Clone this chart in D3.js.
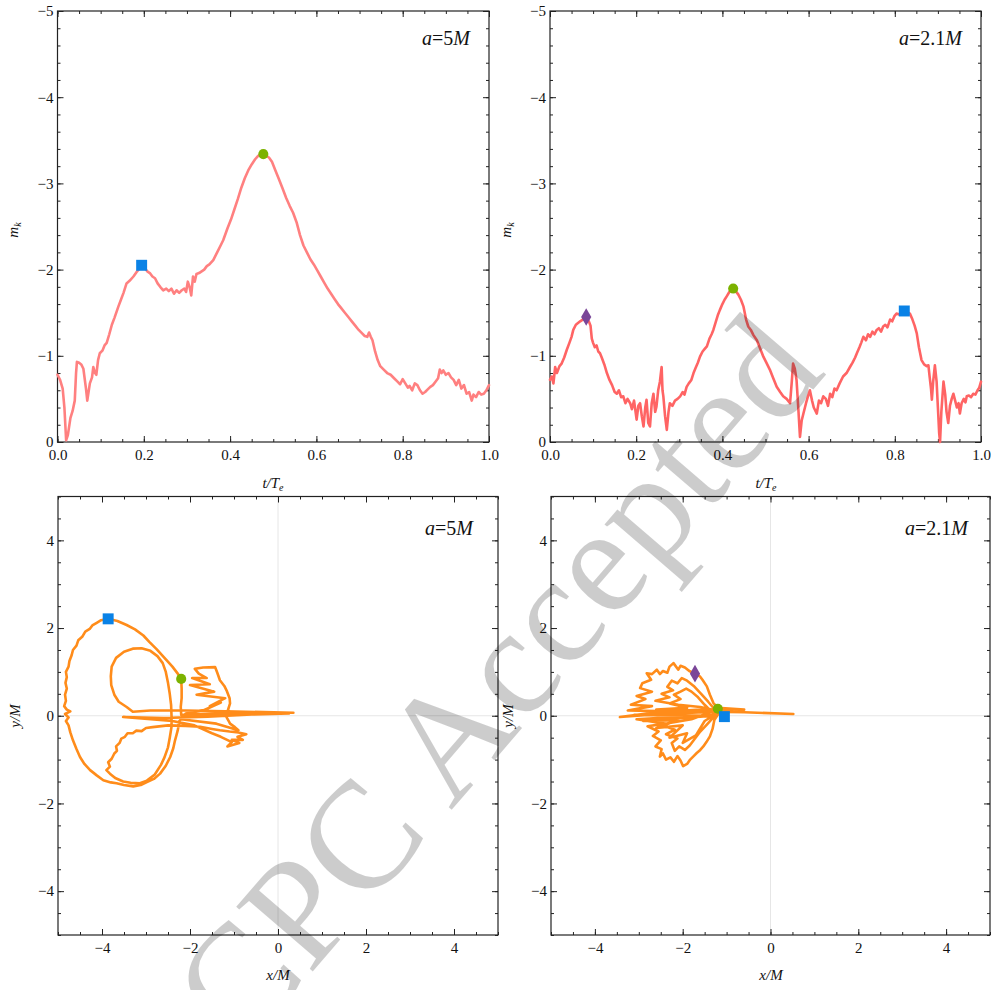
<!doctype html>
<html>
<head>
<meta charset="utf-8">
<title>m_k and orbits</title>
<script src="https://cdnjs.cloudflare.com/ajax/libs/d3/7.8.5/d3.min.js"></script>
<style>
  body { margin: 0; background: #fff; }
  svg text { font-family: "Liberation Serif", "Times New Roman", serif; }
  svg .tick text { font-size: 15px; }
</style>
</head>
<body>
<div id="chart"></div>
<script>
// ---- data ----
// top left, a = 5M : m_k against t/T_e
const tLeft = [0.000,0.006,0.012,0.016,0.020,0.024,0.030,0.035,0.040,0.043,0.045,0.050,0.055,0.060,0.066,0.069,0.075,0.080,0.083,0.087,0.090,0.094,0.098,0.104,0.109,0.114,0.120,0.126,0.132,0.141,0.147,0.153,0.160,0.167,0.176,0.183,0.188,0.195,0.202,0.208,0.214,0.220,0.226,0.232,0.238,0.245,0.252,0.258,0.264,0.270,0.276,0.282,0.288,0.294,0.298,0.302,0.306,0.310,0.314,0.318,0.322,0.328,0.334,0.340,0.346,0.352,0.361,0.370,0.378,0.384,0.394,0.402,0.410,0.418,0.426,0.434,0.442,0.450,0.458,0.465,0.472,0.477,0.484,0.490,0.497,0.505,0.513,0.521,0.530,0.538,0.546,0.554,0.562,0.570,0.578,0.586,0.594,0.601,0.610,0.618,0.626,0.634,0.642,0.650,0.658,0.666,0.674,0.682,0.690,0.698,0.706,0.712,0.718,0.722,0.726,0.730,0.736,0.742,0.748,0.756,0.764,0.772,0.780,0.788,0.794,0.800,0.806,0.812,0.816,0.822,0.828,0.834,0.840,0.846,0.852,0.858,0.864,0.870,0.876,0.882,0.886,0.890,0.894,0.900,0.906,0.912,0.918,0.924,0.930,0.936,0.942,0.948,0.954,0.960,0.964,0.970,0.976,0.982,0.988,0.994,1.000];
const mLeft = [-0.78,-0.72,-0.62,-0.40,-0.02,-0.08,-0.28,-0.36,-0.48,-0.80,-0.93,-0.92,-0.90,-0.85,-0.62,-0.48,-0.68,-0.75,-0.87,-0.80,-0.78,-0.95,-1.03,-1.06,-1.12,-1.15,-1.25,-1.36,-1.44,-1.57,-1.65,-1.73,-1.84,-1.87,-1.92,-1.97,-2.00,-2.05,-2.02,-1.98,-1.96,-1.92,-1.90,-1.84,-1.80,-1.76,-1.78,-1.75,-1.78,-1.72,-1.76,-1.73,-1.76,-1.78,-1.74,-1.86,-1.80,-1.70,-1.92,-1.86,-1.95,-1.96,-1.98,-2.00,-2.04,-2.06,-2.11,-2.20,-2.28,-2.34,-2.48,-2.58,-2.70,-2.82,-2.95,-3.06,-3.15,-3.22,-3.28,-3.32,-3.34,-3.34,-3.32,-3.30,-3.25,-3.15,-3.05,-2.95,-2.83,-2.74,-2.66,-2.55,-2.40,-2.28,-2.20,-2.12,-2.06,-2.00,-1.92,-1.85,-1.78,-1.72,-1.66,-1.60,-1.55,-1.50,-1.45,-1.40,-1.35,-1.30,-1.26,-1.23,-1.22,-1.27,-1.22,-1.18,-1.05,-0.95,-0.88,-0.84,-0.80,-0.78,-0.74,-0.70,-0.67,-0.73,-0.68,-0.63,-0.65,-0.60,-0.68,-0.66,-0.60,-0.56,-0.58,-0.61,-0.64,-0.66,-0.70,-0.74,-0.84,-0.80,-0.83,-0.78,-0.80,-0.75,-0.72,-0.66,-0.72,-0.62,-0.66,-0.56,-0.58,-0.48,-0.55,-0.52,-0.58,-0.55,-0.56,-0.60,-0.66];

// top right, a = 2.1M
const tRight = [0.000,0.004,0.008,0.012,0.016,0.022,0.027,0.033,0.039,0.045,0.050,0.054,0.060,0.065,0.070,0.076,0.084,0.090,0.094,0.097,0.100,0.104,0.108,0.112,0.116,0.120,0.126,0.132,0.138,0.144,0.150,0.155,0.160,0.165,0.170,0.175,0.180,0.186,0.190,0.195,0.201,0.205,0.209,0.213,0.217,0.221,0.224,0.228,0.232,0.236,0.240,0.244,0.247,0.251,0.255,0.259,0.261,0.263,0.267,0.271,0.275,0.278,0.284,0.290,0.296,0.302,0.308,0.312,0.317,0.322,0.328,0.333,0.338,0.343,0.348,0.354,0.359,0.364,0.370,0.375,0.379,0.385,0.390,0.394,0.400,0.405,0.410,0.416,0.421,0.425,0.431,0.437,0.443,0.449,0.455,0.460,0.466,0.472,0.480,0.488,0.495,0.502,0.510,0.518,0.526,0.534,0.541,0.549,0.557,0.561,0.564,0.568,0.572,0.576,0.580,0.584,0.588,0.594,0.598,0.603,0.608,0.612,0.619,0.624,0.629,0.634,0.640,0.645,0.650,0.655,0.660,0.665,0.672,0.680,0.688,0.696,0.702,0.708,0.712,0.718,0.722,0.727,0.733,0.738,0.743,0.748,0.753,0.758,0.763,0.768,0.773,0.778,0.783,0.789,0.794,0.799,0.804,0.810,0.816,0.822,0.828,0.835,0.841,0.846,0.851,0.856,0.862,0.868,0.874,0.878,0.881,0.884,0.886,0.889,0.893,0.897,0.900,0.903,0.905,0.908,0.913,0.917,0.920,0.924,0.928,0.932,0.936,0.940,0.944,0.948,0.951,0.955,0.960,0.964,0.967,0.972,0.977,0.982,0.987,0.992,0.996,1.000];
const mRight = [-0.72,-0.76,-0.68,-0.87,-0.80,-0.88,-0.91,-0.98,-1.07,-1.15,-1.22,-1.30,-1.36,-1.38,-1.40,-1.42,-1.45,-1.40,-1.35,-1.20,-1.15,-1.10,-1.12,-1.05,-1.03,-0.98,-0.90,-0.80,-0.72,-0.66,-0.58,-0.56,-0.60,-0.52,-0.53,-0.45,-0.50,-0.45,-0.38,-0.48,-0.26,-0.42,-0.45,-0.30,-0.18,-0.40,-0.49,-0.22,-0.18,-0.45,-0.56,-0.35,-0.41,-0.60,-0.70,-0.87,-0.60,-0.53,-0.30,-0.14,-0.35,-0.45,-0.42,-0.48,-0.50,-0.53,-0.58,-0.55,-0.64,-0.68,-0.72,-0.80,-0.86,-0.92,-0.99,-1.05,-1.08,-1.11,-1.20,-1.25,-1.30,-1.40,-1.48,-1.53,-1.60,-1.65,-1.69,-1.74,-1.77,-1.78,-1.75,-1.71,-1.65,-1.57,-1.42,-1.34,-1.30,-1.24,-1.18,-1.08,-0.99,-0.92,-0.84,-0.74,-0.64,-0.58,-0.53,-0.50,-0.45,-0.70,-0.91,-0.85,-0.72,-0.40,-0.06,-0.25,-0.33,-0.45,-0.52,-0.60,-0.48,-0.40,-0.33,-0.48,-0.45,-0.53,-0.50,-0.42,-0.56,-0.52,-0.62,-0.60,-0.68,-0.76,-0.80,-0.87,-0.92,-0.98,-1.03,-1.10,-1.15,-1.22,-1.18,-1.25,-1.22,-1.28,-1.25,-1.30,-1.32,-1.28,-1.34,-1.36,-1.33,-1.42,-1.40,-1.46,-1.49,-1.48,-1.52,-1.52,-1.51,-1.49,-1.42,-1.35,-1.26,-1.10,-0.95,-0.90,-0.88,-0.89,-0.75,-0.62,-0.49,-0.70,-0.89,-0.70,-0.40,-0.10,0.00,-0.35,-0.70,-0.55,-0.35,-0.22,-0.42,-0.50,-0.56,-0.48,-0.40,-0.45,-0.33,-0.45,-0.50,-0.46,-0.53,-0.54,-0.52,-0.56,-0.55,-0.60,-0.63,-0.70];

// bottom left, a = 5M : orbit [x/M, y/M]
const orbitLeft = [[0.35,0.07],[-1.2,0.10],[-2.1,0.12],[-2.9,0.12],[-3.30,0.09],
  [-3.44,0.20],[-3.62,0.32],[-3.72,0.48],[-3.79,0.70],[-3.80,0.90],[-3.78,1.12],[-3.68,1.32],[-3.50,1.46],[-3.30,1.53],[-3.10,1.54],[-2.90,1.48],[-2.74,1.36],[-2.62,1.20],[-2.55,1.00],[-2.50,0.75],[-2.46,0.50],[-2.43,0.25],[-2.42,0.00],[-2.42,-0.25],[-2.46,-0.50],[-2.50,-0.72],[-2.58,-0.95],[-2.66,-1.12],[-2.80,-1.34],[-2.98,-1.48],[-3.14,-1.54],[-3.35,-1.53],[-3.52,-1.50],[-3.70,-1.42],[-3.82,-1.32],[-3.90,-1.24],[-3.82,-1.16],[-3.86,-1.06],
  [-3.78,-0.98],[-3.72,-0.86],[-3.66,-0.80],[-3.68,-0.70],[-3.60,-0.62],[-3.56,-0.52],[-3.48,-0.48],[-3.42,-0.40],[-3.30,-0.40],[-3.22,-0.34],[-3.10,-0.35],[-3.00,-0.28],[-2.85,-0.26],
  [-2.5,-0.22],[-2.1,-0.23],[-1.77,-0.25],[-1.5,-0.30],[-1.32,-0.33],[-1.10,-0.36],[-0.90,-0.38],[-0.72,-0.42],[-0.92,-0.48],[-0.80,-0.55],[-1.05,-0.55],[-0.88,-0.62],[-1.15,-0.70],[-1.05,-0.60],[-1.30,-0.48],[-1.50,-0.40],[-1.9,-0.22],[-2.4,-0.12],
  [-3.52,-0.03],[-2.6,-0.05],[-1.6,-0.02],[-0.6,0.03],[0.25,0.05],[-1.0,0.06],[-2.2,0.02],
  [-2.21,0.20],[-2.19,0.40],[-2.19,0.62],[-2.20,0.84],[-2.27,0.95],[-2.40,1.12],[-2.58,1.32],[-2.76,1.52],[-2.92,1.68],[-3.06,1.83],[-3.25,1.97],[-3.44,2.07],[-3.65,2.16],[-3.86,2.21],[-4.02,2.18],[-4.12,2.12],[-4.22,2.06],[-4.28,1.98],[-4.38,1.92],[-4.45,1.80],[-4.54,1.72],[-4.58,1.60],[-4.66,1.50],[-4.69,1.38],[-4.74,1.25],[-4.76,1.12],[-4.82,1.00],[-4.80,0.88],[-4.83,0.75],[-4.80,0.62],[-4.84,0.48],[-4.82,0.34],[-4.86,0.22],[-4.80,0.14],[-4.72,0.10],[-4.84,0.04],[-4.76,-0.04],[-4.82,-0.12],[-4.76,-0.22],[-4.72,-0.38],[-4.66,-0.56],[-4.58,-0.76],[-4.50,-0.94],[-4.40,-1.10],[-4.27,-1.24],[-4.12,-1.36],[-3.97,-1.47],[-3.80,-1.52],[-3.67,-1.54],[-3.50,-1.58],[-3.29,-1.61],[-3.12,-1.58],[-2.98,-1.51],[-2.82,-1.44],[-2.68,-1.32],[-2.55,-1.14],[-2.45,-0.94],[-2.38,-0.74],[-2.34,-0.56],[-2.28,-0.34],[-2.24,-0.12],
  [-2.10,0.05],[-1.70,0.12],[-1.30,0.30],[-1.55,0.22],[-1.20,0.40],[-1.85,0.48],[-1.45,0.55],[-2.00,0.70],[-1.55,0.72],[-1.95,0.86],[-1.62,0.86],[-1.80,0.96],[-1.89,1.07],[-1.70,1.10],[-1.43,1.11],[-1.38,0.98],[-1.32,0.81],[-1.22,0.68],[-1.17,0.58],[-1.10,0.40],[-1.09,0.28],[-1.14,0.12],[-1.17,-0.03],[-1.12,-0.12],[-1.09,-0.18],[-0.98,-0.26],[-0.90,-0.33],[-1.40,-0.18],[-2.20,-0.08]];

// bottom right, a = 2.1M
const orbitRight = [[0.52,0.04],[-0.6,0.08],[-1.8,0.10],[-2.8,0.02],[-3.43,-0.03],[-2.6,0.08],[-1.6,0.14],[-1.05,0.15],[-0.6,0.14],[-1.2,0.18],
  [-1.30,0.29],[-1.38,0.48],[-1.45,0.67],[-1.55,0.82],[-1.61,0.90],[-1.72,0.96],[-1.85,1.02],[-1.95,1.10],[-2.05,1.14],[-2.10,1.05],[-2.21,1.20],[-2.30,1.12],[-2.35,0.98],[-2.45,1.02],[-2.52,0.95],[-2.59,1.05],[-2.70,0.95],[-2.82,0.97],[-2.72,0.82],[-2.92,0.74],[-2.97,0.63],[-2.70,0.55],[-3.05,0.45],[-2.85,0.38],[-3.18,0.25],[-2.70,0.22],[-3.25,0.12],[-2.2,0.10],[-1.25,0.12],
  [-1.42,0.32],[-1.58,0.50],[-1.75,0.68],[-1.90,0.80],[-2.02,0.86],[-2.12,0.74],[-2.25,0.80],[-2.35,0.66],[-2.22,0.58],[-2.48,0.50],[-2.30,0.42],[-2.62,0.34],[-2.1,0.25],[-1.6,0.20],[-1.15,0.10],
  [-1.28,-0.10],[-1.32,-0.30],[-1.38,-0.47],[-1.46,-0.60],[-1.53,-0.70],[-1.60,-0.78],[-1.68,-0.85],[-1.75,-0.92],[-1.83,-1.00],[-1.90,-1.10],[-1.99,-1.15],[-2.05,-1.02],[-2.12,-0.92],[-2.20,-1.05],[-2.28,-0.95],[-2.38,-1.00],[-2.45,-0.86],[-2.52,-0.93],[-2.48,-0.76],[-2.62,-0.70],[-2.50,-0.56],[-2.68,-0.46],[-2.55,-0.36],[-2.80,-0.24],[-2.40,-0.18],[-3.05,-0.08],[-2.0,-0.02],[-1.25,0.02],
  [-1.45,-0.20],[-1.60,-0.36],[-1.72,-0.52],[-1.84,-0.68],[-1.95,-0.78],[-2.08,-0.70],[-2.18,-0.80],[-2.25,-0.62],[-2.12,-0.52],[-2.38,-0.42],[-2.18,-0.32],[-2.50,-0.20],[-1.80,-0.08],[-1.20,0.14],
  [-1.30,0.05],[-1.50,0.25],[-1.65,0.42],[-1.80,0.55],[-1.92,0.62],[-2.05,0.55],[-2.20,0.48],[-2.05,0.38],[-2.30,0.28],[-1.90,0.18],[-2.60,0.14],[-1.50,0.08],[-3.10,0.02],[-1.30,0.00],[-2.90,-0.12],[-2.10,-0.10],[-2.60,-0.28],[-2.00,-0.22],[-2.30,-0.50],[-1.90,-0.40],[-2.00,-0.62],[-1.70,-0.45],[-1.50,-0.12],[-1.15,0.10],[-1.12,0.08],[-1.05,-0.02]];

// markers: [x, y, shape]
const marksTopLeft = [[0.195,-2.05,'square'],[0.477,-3.34,'circle']];
const marksTopRight = [[0.084,-1.45,'diamond'],[0.425,-1.78,'circle'],[0.822,-1.52,'square']];
const marksBottomLeft = [[-3.86,2.21,'square'],[-2.20,0.84,'circle']];
const marksBottomRight = [[-1.72,0.96,'diamond'],[-1.20,0.16,'circle'],[-1.05,-0.02,'square']];

const xTicksTime = [0, 0.2, 0.4, 0.6, 0.8, 1.0];
const yTicksM = [-5, -4, -3, -2, -1, 0];
const ticksOrbit = [-4, -2, 0, 2, 4];

// ---- drawing ----
const W = 991, H = 990;
const svg = d3.select('#chart').append('svg').attr('width', W).attr('height', H);

const markColor = { square: '#0a82e6', circle: '#7cb200', diamond: '#7a4698' };

function drawPanel(p) {
  const x = d3.scaleLinear().domain(p.xDomain).range([p.left, p.right]);
  const y = d3.scaleLinear().domain(p.yDomain).range([p.bottom, p.top]);
  const g = svg.append('g');

  if (p.grid) {
    g.append('line').attr('x1', x(0)).attr('x2', x(0)).attr('y1', p.top).attr('y2', p.bottom)
      .attr('stroke', '#e6e6e6').attr('stroke-width', 1);
    g.append('line').attr('x1', p.left).attr('x2', p.right).attr('y1', y(0)).attr('y2', y(0))
      .attr('stroke', '#e6e6e6').attr('stroke-width', 1);
  }

  const axes = [
    [d3.axisBottom(x), 'translate(0,' + p.bottom + ')', p.xMajor, p.xMinor, p.xFmt, 7],
    [d3.axisTop(x), 'translate(0,' + p.top + ')', p.xMajor, p.xMinor, null, 5],
    [d3.axisLeft(y), 'translate(' + p.left + ',0)', p.yMajor, p.yMinor, p.yFmt, 4],
    [d3.axisRight(y), 'translate(' + p.right + ',0)', p.yMajor, p.yMinor, null, 5]
  ];
  axes.forEach(([ax, tr, major, minor, fmt, pad]) => {
    g.append('g').attr('transform', tr)
      .call(ax.tickValues(minor).tickSize(-3).tickFormat(''))
      .call(a => a.select('.domain').remove());
    g.append('g').attr('transform', tr)
      .call(ax.tickValues(major).tickSize(-6).tickPadding(pad).tickFormat(fmt ? fmt : ''))
      .call(a => a.select('.domain').remove());
  });
  g.selectAll('.tick line').attr('stroke', '#222').attr('stroke-width', 1);
  g.selectAll('.tick text').attr('fill', '#111');

  g.append('rect').attr('x', p.left).attr('y', p.top)
    .attr('width', p.right - p.left).attr('height', p.bottom - p.top)
    .attr('fill', 'none').attr('stroke', '#222').attr('stroke-width', 1.2);

  const line = d3.line().x(d => x(d[0])).y(d => y(d[1]));
  g.append('path').datum(p.data).attr('d', line)
    .attr('fill', 'none').attr('stroke', p.color).attr('stroke-width', 2.6)
    .attr('stroke-linejoin', 'round').attr('stroke-linecap', 'round');

  const sym = { square: d3.symbolSquare, circle: d3.symbolCircle, diamond: d3.symbolDiamond };
  const size = { square: 120, circle: 80, diamond: 90 };
  g.selectAll('path.mark').data(p.marks).join('path').attr('class', 'mark')
    .attr('transform', d => 'translate(' + x(d[0]) + ',' + y(d[1]) + ')')
    .attr('d', d => d3.symbol(sym[d[2]], size[d[2]])())
    .attr('fill', d => markColor[d[2]]);

  // case label a = ...M
  const t = g.append('text').attr('x', p.labelX).attr('y', p.labelY)
    .attr('text-anchor', 'end').attr('font-size', 20).attr('fill', '#111');
  t.append('tspan').attr('font-style', 'italic').text('a');
  t.append('tspan').text('=' + p.a);
  t.append('tspan').attr('font-style', 'italic').text('M');

  return { x, y, g };
}

const fmtT = d3.format('.1f');
const fmtI = d3.format('d');
const minorT = d3.range(0, 1.0001, 0.05);
const minorM = d3.range(-5, 0.0001, 0.2);
const minorO = d3.range(-5, 5.0001, 0.5);

const timeData = (ts, ms) => ts.map((t, i) => [t, ms[i]]);

const topCommon = { xDomain: [0, 1], yDomain: [0, -5], top: 11, bottom: 442,
  xMajor: xTicksTime, xMinor: minorT, yMajor: yTicksM, yMinor: minorM, xFmt: fmtT, yFmt: fmtI };
const botCommon = { xDomain: [-5, 5], yDomain: [-5, 5], top: 496.5, bottom: 935, grid: true,
  xMajor: ticksOrbit, xMinor: minorO, yMajor: ticksOrbit, yMinor: minorO, xFmt: fmtI, yFmt: fmtI, color: '#ff8c1a' };

drawPanel(Object.assign({}, topCommon, { left: 57.5, right: 489, data: timeData(tLeft, mLeft),
  color: '#ff8080', marks: marksTopLeft, a: '5', labelX: 470, labelY: 45 }));
drawPanel(Object.assign({}, topCommon, { left: 550, right: 981, data: timeData(tRight, mRight),
  color: '#ff6464', marks: marksTopRight, a: '2.1', labelX: 962, labelY: 45 }));
drawPanel(Object.assign({}, botCommon, { left: 58, right: 498, data: orbitLeft,
  marks: marksBottomLeft, a: '5', labelX: 473, labelY: 535 }));
drawPanel(Object.assign({}, botCommon, { left: 551, right: 990, data: orbitRight,
  marks: marksBottomRight, a: '2.1', labelX: 968, labelY: 535 }));

// axis titles
function title(x, y, main, sub, rotate) {
  const t = svg.append('text').attr('text-anchor', 'middle').attr('font-size', 15)
    .attr('font-style', 'italic').attr('fill', '#111')
    .attr('transform', 'translate(' + x + ',' + y + ')' + (rotate ? ' rotate(-90)' : ''));
  t.append('tspan').text(main);
  if (sub) t.append('tspan').attr('font-size', 10).attr('dy', 3).text(sub);
}
title(18, 230, 'm', 'k', true);
title(511, 230, 'm', 'k', true);
title(273, 488, 't/T', 'e', false);
title(766, 488, 't/T', 'e', false);
title(278, 980, 'x/M', null, false);
title(771, 980, 'x/M', null, false);
title(20, 716, 'y/M', null, true);
title(513, 716, 'y/M', null, true);

// watermark
svg.append('text').attr('text-anchor', 'middle').attr('font-size', 153)
  .attr('fill', '#000').attr('fill-opacity', 0.2)
  .attr('transform', 'translate(535,713) rotate(-49.3)')
  .text('CPC Accepted');
</script>
</body>
</html>
